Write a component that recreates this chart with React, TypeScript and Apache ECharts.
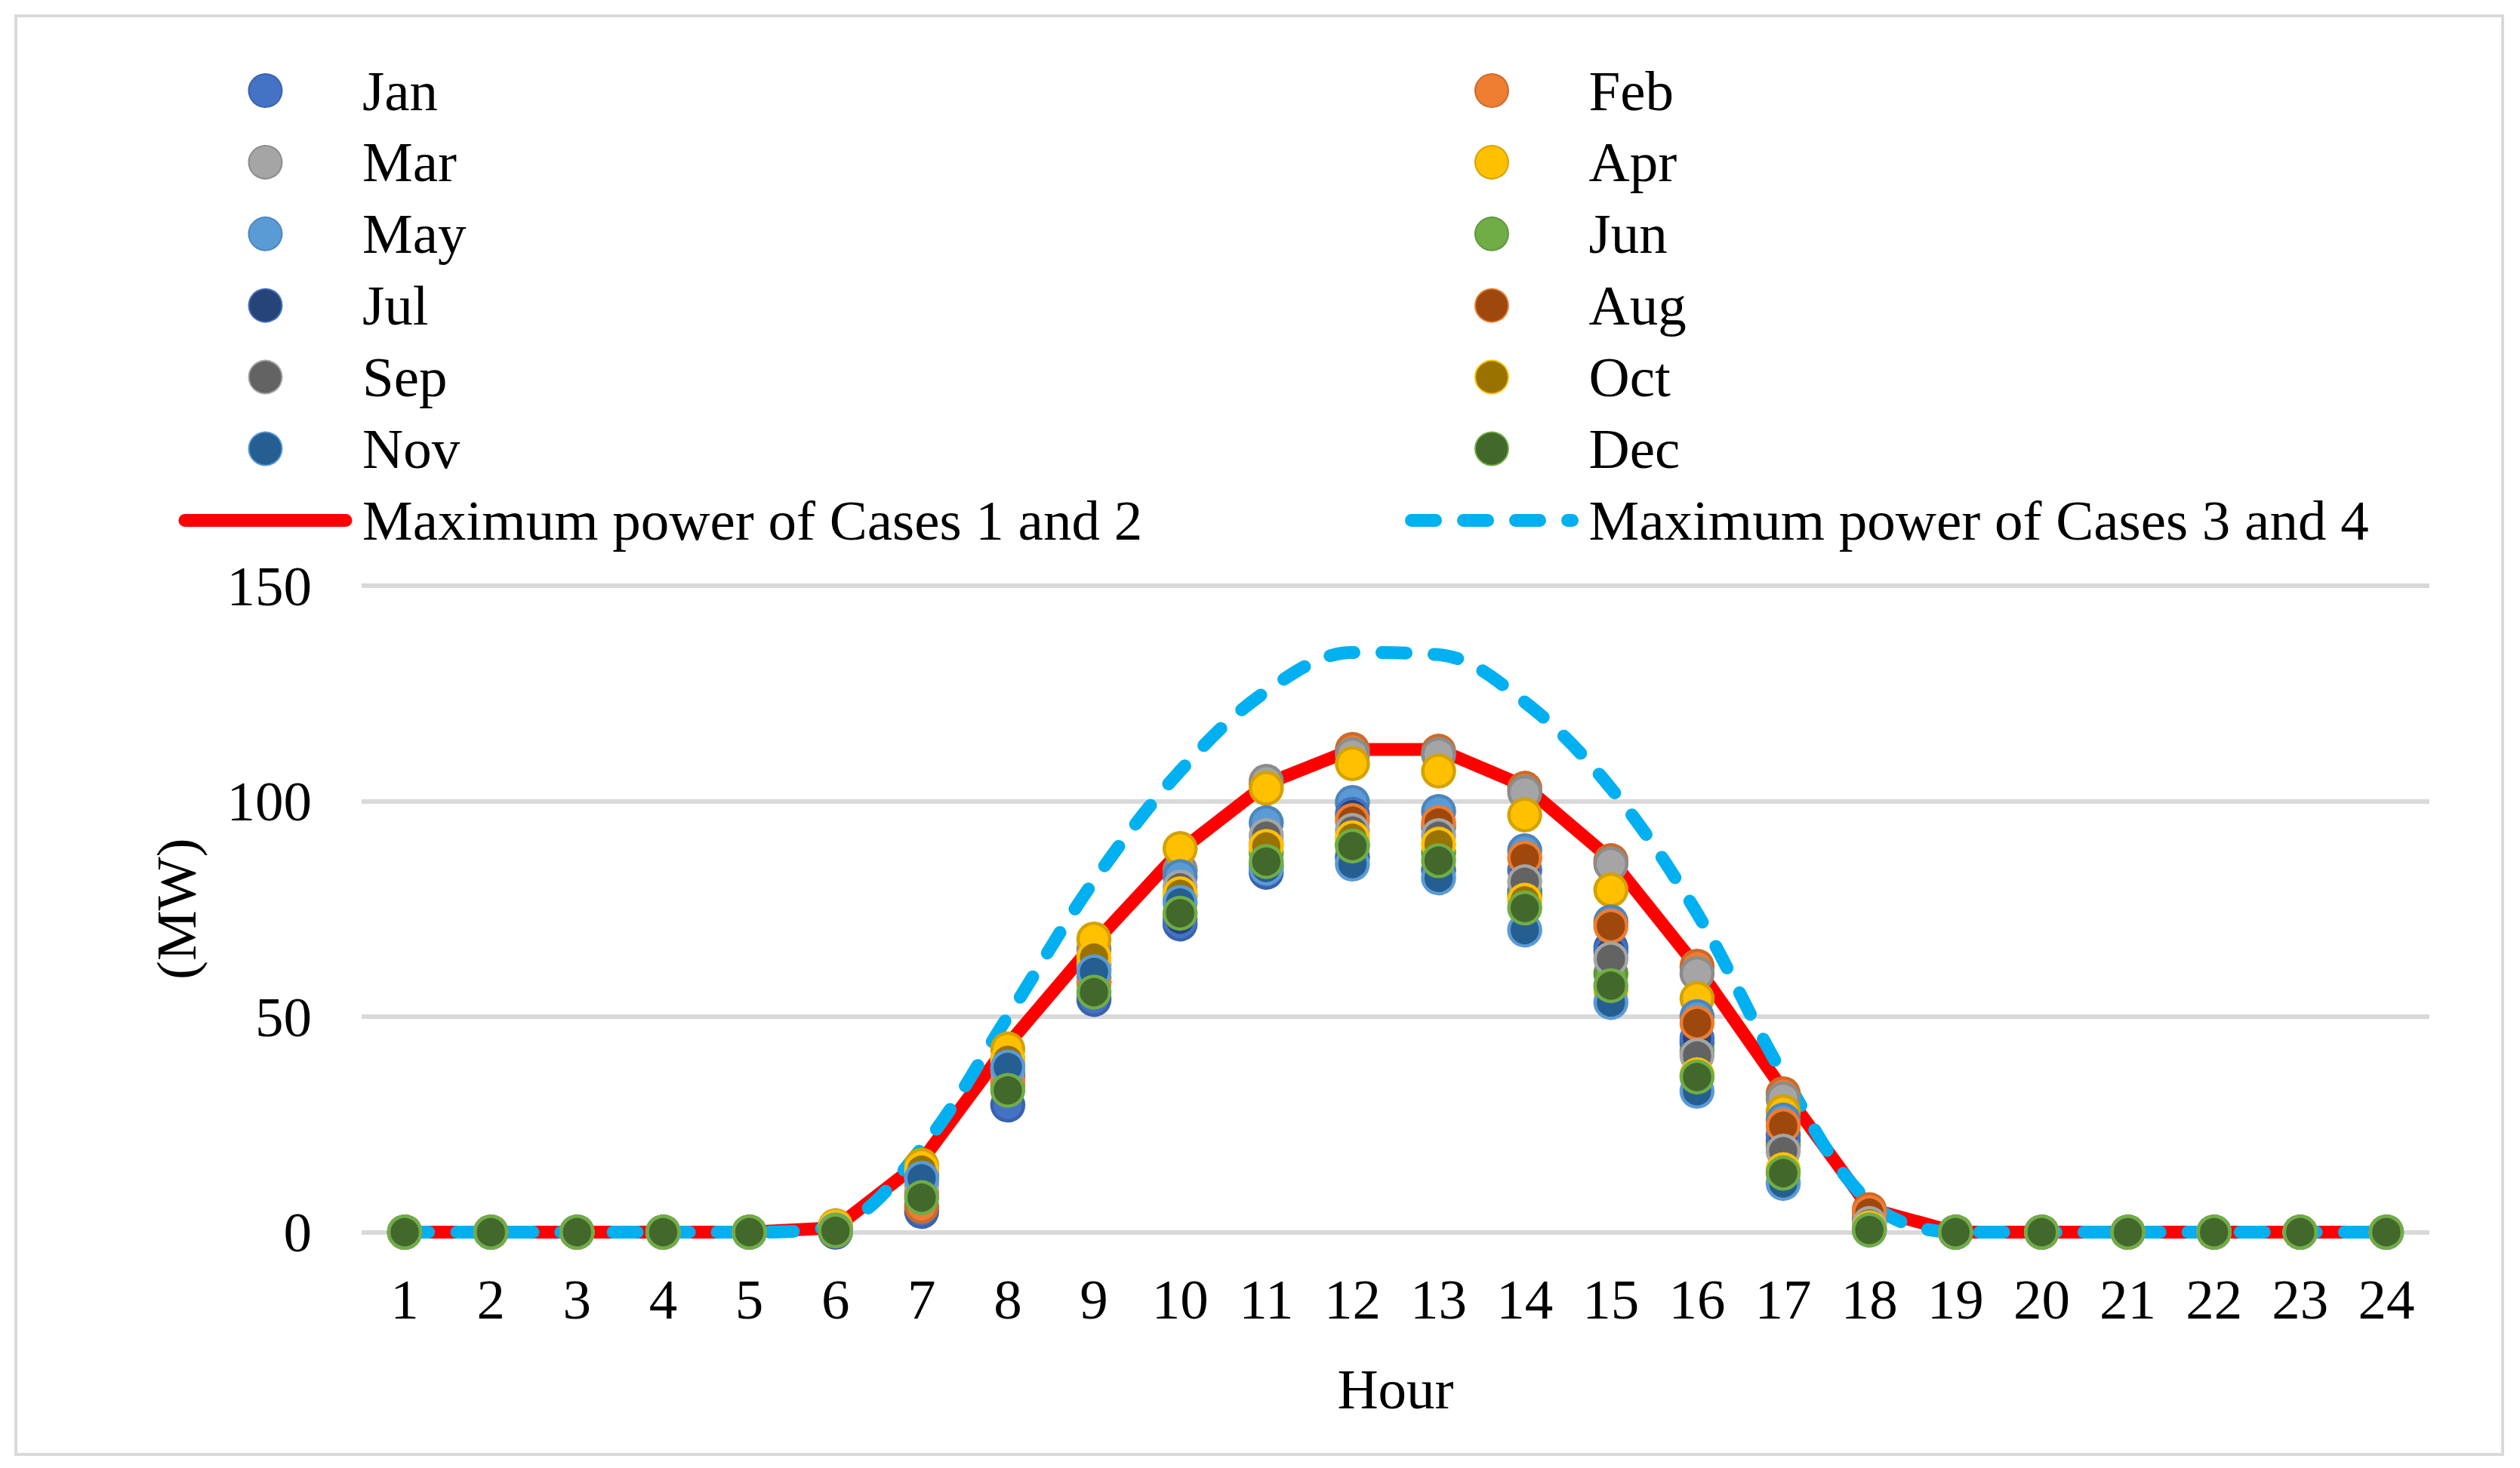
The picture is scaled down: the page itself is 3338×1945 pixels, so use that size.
import React, { useEffect, useRef } from "react";
import * as echarts from "echarts";

const hours = ["1","2","3","4","5","6","7","8","9","10","11","12","13","14","15","16","17","18","19","20","21","22","23","24"];

const jan = [0,0,0,0,0,0,4.8,29.5,54,71.5,83.5,87,84,79,66,44,21,2,0,0,0,0,0,0];
const feb = [0,0,0,0,0,0.3,6,34,61,84,104,112,111.6,103,86.2,61.7,32.1,5.2,0,0,0,0,0,0];
const mar = [0,0,0,0,0,1,13,40,65.7,84,104.6,110.8,110.8,102,85.4,60,30.9,4,0,0,0,0,0,0];
const apr = [0,0,0,0,0,1.5,15.5,42.5,68,89,103,108.7,107,96.8,79.4,54.2,27.9,3,0,0,0,0,0,0];
const may = [0,0,0,0,0,1.2,14,39,62,82.5,95,99.7,97.6,88.5,72,50,26,3.5,0,0,0,0,0,0];
const jun = [0,0,0,0,0,1,13,37,59,78,88,90,88,78,60,42,20,1,0,0,0,0,0,0];
const jul = [0,0,0,0,0,0.8,12.5,36,58,72.5,85,97,94,84,65,45,22.5,2.5,0,0,0,0,0,0];
const aug = [0,0,0,0,0,1,9,35,58,78,90,95.5,95,86.8,71,48.5,24.7,4.5,0,0,0,0,0,0];
const sep = [0,0,0,0,0,0.8,11,38,62,80,92,93.2,92,81.3,63.4,41,18.8,2,0,0,0,0,0,0];
const oct = [0,0,0,0,0,1.2,14.5,40,63.7,78.5,89.5,91.5,90,77,56,36.5,14.5,1,0,0,0,0,0,0];
const nov = [0,0,0,0,0,0.5,12.5,38.3,60.4,76.5,84.5,85.4,82.2,70.1,53.3,32.7,11.3,0.5,0,0,0,0,0,0];
const dec = [0,0,0,0,0,0.3,8,32.9,55.7,74,86,89.6,86.2,75.2,57.2,36,13.7,0.5,0,0,0,0,0,0];

const maxCases12 = [0,0,0,0,0,1,16.5,43.5,67,88.5,104,112,112,103.5,86.5,61.5,33,5.5,0,0,0,0,0,0];
const maxCases34 = [0,0,0,0,0,1.5,19.5,50,81.5,107,125.5,134.5,134,123,103,74,36.5,7,0,0,0,0,0,0];

const yTicks = { min: 0, max: 150, interval: 50 };

const monthNames = ["Jan","Feb","Mar","Apr","May","Jun","Jul","Aug","Sep","Oct","Nov","Dec"];
const monthData = [jan, feb, mar, apr, may, jun, jul, aug, sep, oct, nov, dec];
const monthFill = ["#4472C4","#ED7D31","#A5A5A5","#FFC000","#5B9BD5","#70AD47","#264478","#9E480E","#636363","#997300","#255E91","#43682B"];
const monthBorder = ["#3A62AC","#CD6A2A","#8C8C8C","#D4A200","#4C86BC","#5E983A","#4472C4","#ED7D31","#A5A5A5","#FFC000","#5B9BD5","#70AD47"];

const line1Name = "Maximum power of Cases 1 and 2";
const line2Name = "Maximum power of Cases 3 and 4";

const FONT = "'Liberation Serif', 'Times New Roman', serif";
const FS = 75;

const redStyle = { color: "#FF0000", width: 17, cap: "round", join: "round" };
const cyanStyle = { color: "#00B0F0", width: 17, type: [32, 37], cap: "round", join: "round" };

export default function App() {
  const ref = useRef<HTMLDivElement>(null);
  useEffect(() => {
    if (!ref.current) return;
    const chart = echarts.init(ref.current, undefined, { renderer: "svg" });
    const scatterSeries = monthNames.map((name, i) => ({
      name,
      type: "scatter",
      data: monthData[i],
      symbol: "circle",
      symbolSize: 42,
      z: 3,
      itemStyle: { color: monthFill[i], borderColor: monthBorder[i], borderWidth: 4.5, opacity: 1 },
    }));
    const hiddenSymbol = { color: "rgba(0,0,0,0)", borderColor: "rgba(0,0,0,0)", borderWidth: 0, opacity: 0 };
    const legendCommon = {
      orient: "vertical",
      top: 80,
      padding: 0,
      itemWidth: 213,
      itemHeight: 44,
      itemGap: 14.9,
      textStyle: { fontFamily: FONT, fontSize: FS, color: "#000", lineHeight: 80, padding: [0, 0, 0, 17] },
    };
    chart.setOption({
      animation: false,
      backgroundColor: "#fff",
      graphic: [
        {
          type: "rect",
          shape: { x: 21, y: 21, width: 3294, height: 1906 },
          style: { fill: "none", stroke: "#D9D9D9", lineWidth: 4 },
          silent: true,
        },
      ],
      legend: [
        {
          ...legendCommon,
          left: 236.5,
          data: ["Jan", "Mar", "May", "Jul", "Sep", "Nov", { name: line1Name, itemStyle: hiddenSymbol, lineStyle: redStyle }],
        },
        {
          ...legendCommon,
          left: 1861,
          data: ["Feb", "Apr", "Jun", "Aug", "Oct", "Dec", { name: line2Name, itemStyle: hiddenSymbol, lineStyle: cyanStyle }],
        },
      ],
      grid: { left: 479, right: 120, top: 776, bottom: 312.5, containLabel: false },
      xAxis: {
        type: "category",
        data: hours,
        boundaryGap: true,
        axisLine: { show: false },
        axisTick: { show: false },
        axisLabel: { fontFamily: FONT, fontSize: FS, color: "#000", margin: 51, interval: 0 },
        name: "Hour",
        nameLocation: "middle",
        nameGap: 170,
        nameTextStyle: { fontFamily: FONT, fontSize: FS, color: "#000" },
      },
      yAxis: {
        type: "value",
        min: yTicks.min,
        max: yTicks.max,
        interval: yTicks.interval,
        axisLine: { show: false },
        axisTick: { show: false },
        splitLine: { show: true, lineStyle: { color: "#D9D9D9", width: 6 } },
        axisLabel: { fontFamily: FONT, fontSize: FS, color: "#000", margin: 66 },
        name: "(MW)",
        nameLocation: "middle",
        nameRotate: 90,
        nameGap: 208,
        nameTextStyle: { fontFamily: FONT, fontSize: FS, color: "#000" },
      },
      series: [
        {
          name: line1Name,
          type: "line",
          data: maxCases12,
          symbol: "none",
          smooth: false,
          z: 2,
          lineStyle: redStyle,
          itemStyle: { color: "#FF0000" },
        },
        {
          name: line2Name,
          type: "line",
          data: maxCases34,
          symbol: "none",
          smooth: 0.35,
          z: 2,
          lineStyle: cyanStyle,
          itemStyle: { color: "#00B0F0" },
        },
        ...scatterSeries,
      ],
    });
    return () => chart.dispose();
  }, []);
  return <div ref={ref} style={{ position: "absolute", left: 0, top: 0, width: 3338, height: 1945 }} />;
}
